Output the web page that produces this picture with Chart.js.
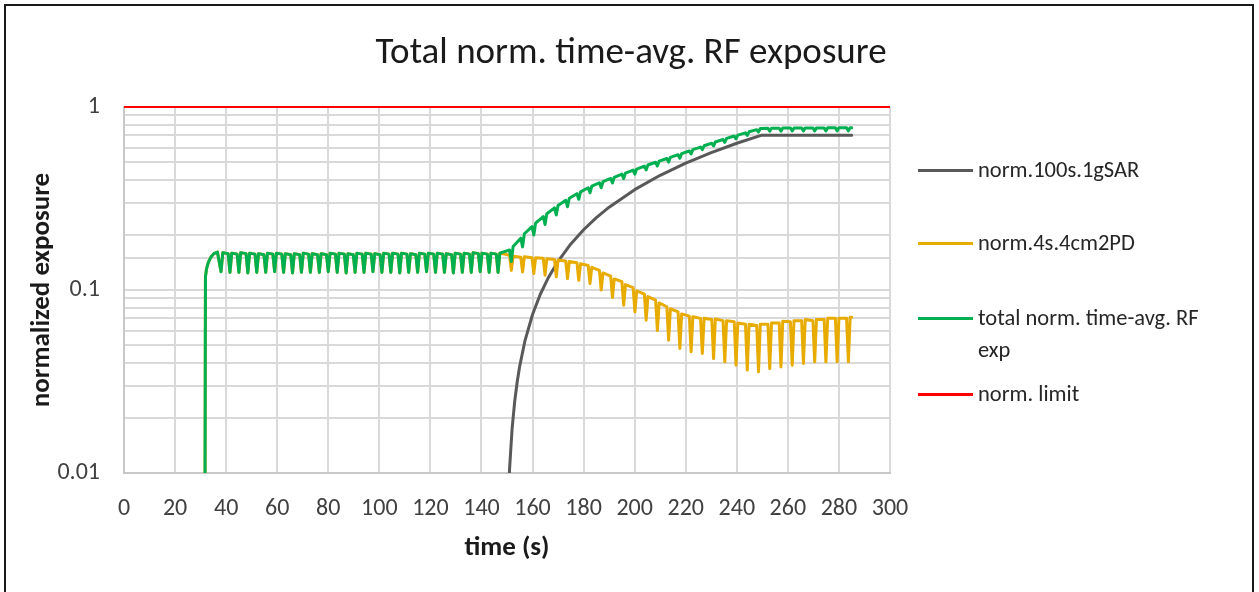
<!DOCTYPE html>
<html>
<head>
<meta charset="utf-8">
<title>Total norm. time-avg. RF exposure</title>
<script src="https://cdn.jsdelivr.net/npm/chart.js@4.4.1/dist/chart.umd.min.js"></script>
<style>
  html, body { margin: 0; padding: 0; background: #fff; }
  body { width: 1259px; height: 592px; overflow: hidden; position: relative;
         font-family: "Carlito", "Lato", sans-serif; color: #262626; }
  #moldura { position: absolute; left: 4px; top: 4px; width: 1250px; height: 660px;
             box-sizing: border-box; border: 2px solid #1a1a1a; }
  #grafico { position: absolute; left: 0; top: 0; }
  #titulo { position: absolute; left: 0; width: 1262px; top: 29px; text-align: center;
            font-size: 37px; line-height: 44px; color: #1a1a1a; }
  .legenda-item { position: absolute; left: 918px; font-size: 22.5px; line-height: 32px; color: #262626; }
  .legenda-item .amostra { position: absolute; left: 0; top: 15px; width: 55px; height: 3px; }
  .legenda-item .texto { position: absolute; left: 60px; top: 0; width: 250px; }
</style>
</head>
<body>
<div id="moldura"></div>
<canvas id="grafico" width="1259" height="592"></canvas>
<div id="titulo">Total norm. time-avg. RF exposure</div>
<div id="legenda"></div>
<script>
// Valores (tempo em s, exposição normalizada, escala log)

// subida inicial da PD (verde e amarelo coincidem)
const rampTime  = [31.6, 31.9, 32.3, 33.0, 34.0, 35.2, 36.6];
const rampValue = [0.001, 0.118, 0.130, 0.141, 0.151, 0.158, 0.161];

// fase só-PD: instante de cada vale, valor no vale, logo após o vale, e antes do próximo vale
const steadyTime = [38, 41.5, 45, 48.5, 52, 55.5, 59, 62.5, 66, 69.5, 73, 76.5, 80, 83.5, 87, 90.5,
                    94, 97.5, 101, 104.5, 108, 111.5, 115, 118.5, 122, 125.5, 129, 132.5, 136, 139.5, 143];
const steadyDip = [0.126, 0.125, 0.125, 0.124, 0.125, 0.125, 0.126, 0.125, 0.124, 0.125, 0.125, 0.125,
                   0.126, 0.125, 0.124, 0.125, 0.125, 0.126, 0.125, 0.125, 0.124, 0.125, 0.125, 0.126,
                   0.125, 0.125, 0.124, 0.125, 0.125, 0.126, 0.125];
const steadyTop = [0.160, 0.159, 0.160, 0.159, 0.158, 0.159, 0.159, 0.158, 0.158, 0.159, 0.158, 0.158,
                   0.159, 0.159, 0.158, 0.159, 0.159, 0.158, 0.159, 0.159, 0.159, 0.158, 0.159, 0.159,
                   0.159, 0.158, 0.159, 0.159, 0.160, 0.159, 0.159];
const steadyEnd = [0.158, 0.157, 0.158, 0.157, 0.156, 0.157, 0.157, 0.156, 0.156, 0.157, 0.156, 0.156,
                   0.157, 0.157, 0.156, 0.157, 0.157, 0.156, 0.157, 0.157, 0.157, 0.156, 0.157, 0.157,
                   0.157, 0.156, 0.157, 0.157, 0.158, 0.157, 0.157];

// fase SAR + PD: os dois traços se separam
const splitTime = [146.5, 151.7, 156.1, 160.5, 164.9, 169.3, 173.7, 178.1, 182.5, 186.9, 191.3, 195.7,
                   200.1, 204.5, 208.9, 213.3, 217.7, 222.1, 226.5, 230.9, 235.3, 239.7, 244.1, 248.5,
                   252.9, 257.3, 261.7, 266.1, 270.5, 274.9, 279.3, 283.7];
const pdDip = [0.125, 0.128, 0.1255, 0.123, 0.1205, 0.118, 0.1155, 0.113, 0.1085, 0.100, 0.091, 0.0826,
               0.076, 0.0684, 0.060, 0.0532, 0.0479, 0.046, 0.045, 0.0422, 0.0405, 0.0388, 0.0365, 0.0357,
               0.0372, 0.038, 0.0388, 0.0397, 0.0405, 0.0405, 0.0405, 0.0405];
const pdTop = [0.159, 0.153, 0.152, 0.150, 0.148, 0.146, 0.143, 0.139, 0.133, 0.124, 0.115, 0.107,
               0.099, 0.092, 0.085, 0.079, 0.074, 0.0715, 0.070, 0.0695, 0.068, 0.066, 0.065, 0.065,
               0.066, 0.0675, 0.068, 0.069, 0.069, 0.070, 0.070, 0.071];
const pdEnd = [0.155, 0.151, 0.150, 0.149, 0.147, 0.144, 0.141, 0.136, 0.128, 0.119, 0.111, 0.103,
               0.095, 0.088, 0.081, 0.076, 0.072, 0.070, 0.069, 0.068, 0.067, 0.065, 0.064, 0.065,
               0.066, 0.067, 0.068, 0.068, 0.069, 0.070, 0.070, 0.071];
const totalDip = [0.125, 0.143, 0.172, 0.200, 0.228, 0.257, 0.285, 0.313, 0.340, 0.362, 0.384, 0.406,
                  0.430, 0.453, 0.476, 0.500, 0.525, 0.554, 0.584, 0.612, 0.641, 0.670, 0.699, 0.729,
                  0.737, 0.738, 0.739, 0.740, 0.7405, 0.7405, 0.7405, 0.7405];
const totalTop = [0.159, 0.173, 0.203, 0.232, 0.261, 0.290, 0.317, 0.344, 0.369, 0.391, 0.413, 0.435,
                  0.458, 0.482, 0.506, 0.531, 0.556, 0.585, 0.614, 0.644, 0.674, 0.702, 0.732, 0.763,
                  0.766, 0.7675, 0.768, 0.769, 0.769, 0.770, 0.770, 0.771];
const totalEnd = [0.1655, 0.192, 0.222, 0.252, 0.281, 0.309, 0.336, 0.362, 0.385, 0.407, 0.430, 0.452,
                  0.475, 0.499, 0.523, 0.549, 0.575, 0.604, 0.634, 0.664, 0.694, 0.722, 0.752, 0.765,
                  0.766, 0.767, 0.768, 0.768, 0.769, 0.770, 0.770, 0.771];
const endTime = 285;

// SAR média de 100 s
const sarTime  = [150.0, 150.5, 151, 152, 153, 154, 155, 157, 160, 163, 166, 170, 175, 180, 185, 190,
                  200, 210, 220, 230, 240, 249.5, 285];
const sarValue = [0.0035, 0.007, 0.0105, 0.0175, 0.0245, 0.0315, 0.0385, 0.0525, 0.0735, 0.0945, 0.1155,
                  0.1435, 0.1785, 0.2135, 0.2485, 0.2835, 0.3535, 0.4235, 0.4935, 0.5635, 0.6335, 0.70, 0.70];

// limite normalizado
const limitTime  = [0, 300];
const limitValue = [1, 1];

const yLabels = [0.01, 0.1, 1];

const RISE = 0.7; // s entre o vale e o topo de cada dente

function pares(xs, ys) {
    return xs.map((x, i) => ({ x: x, y: ys[i] }));
}

// monta os dentes: vale, topo logo depois, fim antes do próximo vale
function dentes(times, dips, tops, ends, lastEnd) {
    const pts = [];
    times.forEach((t, i) => {
        const fim = i + 1 < times.length ? times[i + 1] - RISE : lastEnd;
        pts.push({ x: t, y: dips[i] }, { x: t + RISE, y: tops[i] }, { x: fim, y: ends[i] });
    });
    return pts;
}

const inicio = pares(rampTime, rampValue).concat(dentes(steadyTime, steadyDip, steadyTop, steadyEnd, splitTime[0] - RISE));
const serieSar = pares(sarTime, sarValue);
const seriePd = inicio.concat(dentes(splitTime, pdDip, pdTop, pdEnd, endTime));
const serieTotal = inicio.concat(dentes(splitTime, totalDip, totalTop, totalEnd, endTime));
const serieLimite = pares(limitTime, limitValue);

const fonte = "'Carlito', 'Lato', sans-serif";
const corGrade = "#d9d9d9";
// recorte: só deixa a linha passar um pouco acima da área (para a linha do limite em 1)
const recorte = { left: 0, right: 0, bottom: 0, top: 4 };

const chart = new Chart(document.getElementById("grafico").getContext("2d"), {
    type: "line",
    data: {
        datasets: [
            { label: "norm.100s.1gSAR", data: serieSar, borderColor: "#595959", borderWidth: 3, order: 4, clip: recorte },
            { label: "norm.4s.4cm2PD", data: seriePd, borderColor: "#e8ab00", borderWidth: 3, order: 3, clip: recorte },
            { label: ["total norm. time-avg. RF", "exp"], data: serieTotal, borderColor: "#00b050", borderWidth: 3, order: 2, clip: recorte },
            { label: "norm. limit", data: serieLimite, borderColor: "#ff0000", borderWidth: 2, order: 1, clip: recorte }
        ]
    },
    options: {
        responsive: false,
        animation: false,
        events: [],
        layout: { padding: { top: 107, right: 369, bottom: 0, left: 20 } },
        elements: {
            point: { radius: 0 },
            line: { tension: 0, borderJoinStyle: "round", borderCapStyle: "round", fill: false }
        },
        plugins: {
            legend: { display: false },
            title: { display: false },
            tooltip: { enabled: false }
        },
        scales: {
            x: {
                type: "linear",
                min: 0,
                max: 300,
                ticks: { stepSize: 20, padding: 22, color: "#404040", font: { family: fonte, size: 24 } },
                grid: { color: corGrade, lineWidth: 2, drawTicks: false },
                border: { color: "#c8c8c8", width: 2 },
                title: { display: true, text: "time (s)", color: "#1a1a1a",
                         font: { family: fonte, size: 27, weight: "bold" }, padding: { top: 0, bottom: 28 } },
                afterFit: (scale) => { scale.height = 119; }
            },
            y: {
                type: "logarithmic",
                min: 0.01,
                max: 1,
                ticks: {
                    autoSkip: false,
                    padding: 24,
                    color: "#404040",
                    font: { family: fonte, size: 24 },
                    callback: (v) => {
                        const hit = yLabels.find((l) => Math.abs(l - v) < l * 1e-6);
                        return hit !== undefined ? String(hit) : "";
                    }
                },
                grid: { color: corGrade, lineWidth: 2, drawTicks: false },
                border: { color: "#c8c8c8", width: 2 },
                title: { display: true, text: "normalized exposure", color: "#1a1a1a",
                         font: { family: fonte, size: 27, weight: "bold" }, padding: { top: 6, bottom: 0 } },
                afterFit: (scale) => { scale.width = 104; }
            }
        }
    }
});

// legenda à direita, montada a partir dos datasets
const centros = [170, 243, 318, 394];
const legenda = document.getElementById("legenda");
chart.data.datasets.forEach((ds, i) => {
    const item = document.createElement("div");
    item.className = "legenda-item";
    item.style.top = (centros[i] - 16) + "px";
    const amostra = document.createElement("div");
    amostra.className = "amostra";
    amostra.style.background = ds.borderColor;
    const texto = document.createElement("div");
    texto.className = "texto";
    texto.textContent = Array.isArray(ds.label) ? ds.label.join(" ") : ds.label;
    item.appendChild(amostra);
    item.appendChild(texto);
    legenda.appendChild(item);
});
</script>
</body>
</html>
